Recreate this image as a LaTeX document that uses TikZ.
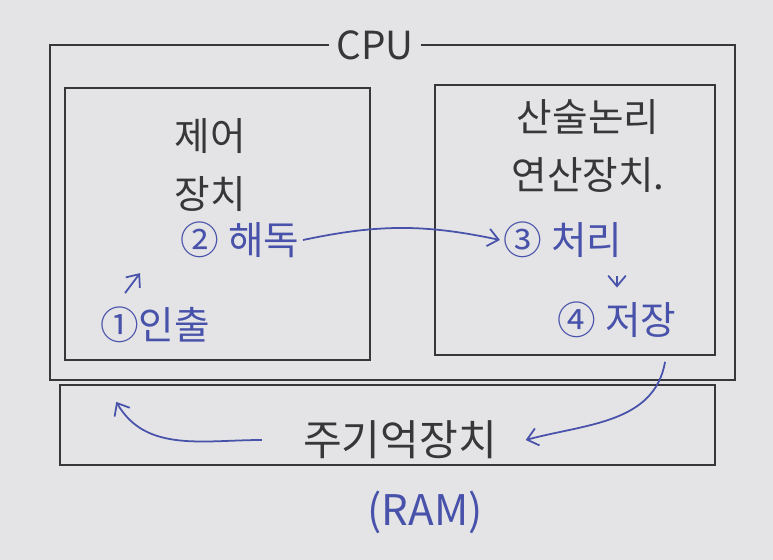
\documentclass[tikz,border=0pt]{standalone}
\usepackage{fontspec}
\newfontfamily\kofont{Noto Sans CJK KR}
\usetikzlibrary{positioning,calc,arrows.meta}
\definecolor{pencil}{RGB}{55,55,58}
\definecolor{inkblue}{RGB}{72,82,170}
\definecolor{paper}{RGB}{228,228,230}
\tikzset{
    unitbox/.style={rectangle, draw=pencil, line width=1.3pt, inner sep=0pt},
    unittext/.style={text=pencil, font=\kofont\fontsize{22}{33}\selectfont, align=center},
    steptext/.style={text=inkblue, font=\kofont\fontsize{22}{26}\selectfont, inner sep=2pt},
    flow/.style={draw=inkblue, line width=1pt, -{Straight Barb[length=6pt,width=10pt]}},
}

\begin{document}
\begin{tikzpicture}[x=0.02cm, y=0.02cm]
    % paper
    \fill[paper] (0,0) rectangle (773,560);

    % CPU with its parts
    \node[unitbox, minimum width=13.7cm, minimum height=6.7cm] (cpu) at (392.5,347.5) {};
    \node[unittext, fill=paper, inner sep=4pt, font=\kofont\fontsize{22}{26}\selectfont] (cpulabel) at (375,515) {CPU};
    \node[unitbox, minimum width=6.1cm, minimum height=5.44cm] (ctrl) at (217.5,336) {};
    \node[unittext] (ctrltext) at (210,395) {제어\\장치};
    \node[unitbox, minimum width=5.6cm, minimum height=5.4cm] (alu) at (575,340) {};
    \node[unittext] (alutext) at (588,414) {산술논리\\연산장치.};

    % main memory
    \node[unitbox, minimum width=13.1cm, minimum height=1.6cm] (mem) at (387.5,135) {};
    \node[unittext, font=\kofont\fontsize{24}{28}\selectfont] (memtext) at (400,120) {주기억장치};
    \node[steptext, font=\kofont\fontsize{24}{28}\selectfont] (ram) at (425,48) {(RAM)};

    % steps
    \node[steptext] (fetch) at (155,235) {①인출};
    \node[steptext] (decode) at (240,320) {② 해독};
    \node[steptext] (exec) at (563,320) {③ 처리};
    \node[steptext] (store) at (617,240) {④ 저장};

    \draw[flow] ([xshift=-0.6cm,yshift=0.2cm]fetch.north) -- ([xshift=-0.3cm,yshift=0.6cm]fetch.north);
    \draw[flow] (decode.east) to[bend left=12] (exec.west);
    \draw[flow, shorten <=8pt, shorten >=6pt] (exec.south -| store.north) -- (store.north);
    \draw[flow] ([xshift=-0.3cm,yshift=-0.4cm]store.south east) to[out=-100, in=15] ([xshift=0.45cm]memtext.east);
    \draw[flow] ([xshift=-0.7cm]memtext.west) to[out=180, in=-60] ([xshift=0.4cm,yshift=-1.1cm]fetch.south west);
\end{tikzpicture}
\end{document}
